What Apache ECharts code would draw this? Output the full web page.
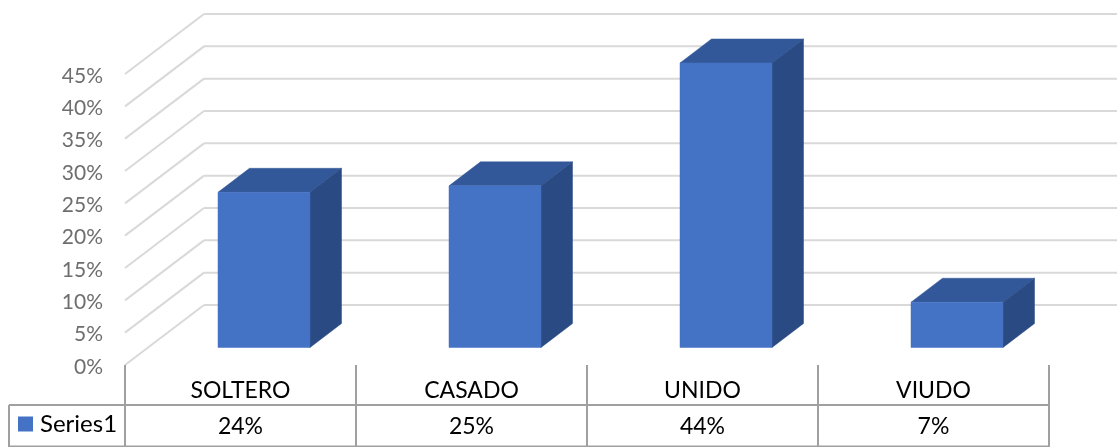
<!DOCTYPE html>
<html>
<head>
<meta charset="utf-8">
<style>html,body{margin:0;padding:0;background:#fff}#c{width:1117px;height:447px}</style>
<script src="https://cdn.jsdelivr.net/npm/echarts@6/dist/echarts.min.js"></script>
</head>
<body>
<div id="c"></div>
<script>
const categories = ['SOLTERO', 'CASADO', 'UNIDO', 'VIUDO'];
const seriesName = 'Series1';
const values = [24, 25, 44, 7];
const yTicks = [0, 5, 10, 15, 20, 25, 30, 35, 40, 45];

const FONT = 'Lato, "Open Sans", sans-serif';
const WALL = { x: 79, y: -60 };
const BAR_OFFSET = { x: 23.5, y: -17.5 };
const BAR_DEPTH = { x: 31.5, y: -24 };
const BAR_WIDTH = 92;
const GRID_COLOR = '#d9d9d9', TABLE_COLOR = '#a0a0a0';
const ROW1 = 40, ROW2 = 82, KEY_LEFT = 9;

const chart = echarts.init(document.getElementById('c'), null, { renderer: 'canvas' });

function poly(points, fill) {
  return { type: 'polygon', shape: { points }, style: { fill, stroke: fill, lineWidth: 0.5 } };
}
function line(x1, y1, x2, y2, stroke, lineWidth) {
  return { type: 'line', shape: { x1, y1, x2, y2 }, style: { stroke, lineWidth } };
}

chart.setOption({
  animation: false,
  backgroundColor: '#fff',
  grid: { left: 125, right: 68, top: 74, bottom: 82 },
  legend: {
    left: 18, top: 412, padding: 0, itemWidth: 15, itemHeight: 15, itemGap: 0,
    icon: 'rect', data: [seriesName], selectedMode: false,
    textStyle: { fontFamily: FONT, fontSize: 24, color: '#000', padding: [0, 0, 0, 2] }
  },
  xAxis: [
    {
      type: 'category', data: categories, position: 'bottom',
      axisLine: { show: false }, axisTick: { show: false }, splitLine: { show: false },
      axisLabel: { fontFamily: FONT, fontSize: 23, color: '#000', margin: 14 }
    },
    {
      type: 'category', data: values.map(v => v + '%'), position: 'bottom', offset: 36,
      axisLine: { show: false }, axisTick: { show: false }, splitLine: { show: false },
      axisLabel: { fontFamily: FONT, fontSize: 23, color: '#000', margin: 14 }
    }
  ],
  yAxis: {
    type: 'value', min: 0, max: 45, interval: 5,
    axisLine: { show: false }, axisTick: { show: false }, splitLine: { show: false },
    axisLabel: { fontFamily: FONT, fontSize: 21, color: '#6e6e6e', margin: 22, verticalAlign: 'top', lineHeight: 4, formatter: '{value}%' }
  },
  series: [
    {
      name: 'walls', type: 'custom', z: 1, silent: true,
      data: yTicks.map(t => [0, t]),
      encode: { x: 0, y: 1 },
      renderItem(params, api) {
        const p = api.coord([0, api.value(1)]);
        const band = api.size([1, 0])[0];
        const x0 = p[0] - band / 2, y0 = p[1];
        const bx = x0 + WALL.x, by = y0 + WALL.y;
        return { type: 'group', children: [
          line(x0, y0, bx, by, GRID_COLOR, 2),
          line(bx, by, x0 + band * categories.length + WALL.x, by, GRID_COLOR, 2)
        ]};
      }
    },
    {
      name: 'table', type: 'custom', z: 2, silent: true,
      data: categories.map((c, i) => [i, 0]),
      encode: { x: 0, y: 1 },
      renderItem(params, api) {
        const i = api.value(0);
        const p = api.coord([i, 0]);
        const band = api.size([1, 0])[0];
        const xl = p[0] - band / 2, xr = p[0] + band / 2, y = p[1];
        const kids = [
          line(xr, y, xr, y + ROW2, TABLE_COLOR, 2),
          line(xl, y + ROW1, xr, y + ROW1, TABLE_COLOR, 2),
          line(xl, y + ROW2 - 0.5, xr, y + ROW2 - 0.5, TABLE_COLOR, 2)
        ];
        if (i === 0) {
          kids.push(line(xl, y, xl, y + ROW2, TABLE_COLOR, 2));
          kids.push(line(KEY_LEFT, y + ROW1, xl, y + ROW1, TABLE_COLOR, 2));
          kids.push(line(KEY_LEFT, y + ROW2 - 0.5, xl, y + ROW2 - 0.5, TABLE_COLOR, 2));
          kids.push(line(KEY_LEFT, y + ROW1, KEY_LEFT, y + ROW2, TABLE_COLOR, 2));
        }
        return { type: 'group', children: kids };
      }
    },
    {
      name: seriesName, type: 'custom', z: 3, silent: true,
      itemStyle: { color: '#4472C4' },
      data: values.map((v, i) => [i, v]),
      encode: { x: 0, y: 1 },
      renderItem(params, api) {
        const top = api.coord([api.value(0), api.value(1)]);
        const base = api.coord([api.value(0), 0]);
        const l = top[0] + BAR_OFFSET.x - BAR_WIDTH / 2, r = l + BAR_WIDTH;
        const t = top[1] + BAR_OFFSET.y, b = base[1] + BAR_OFFSET.y;
        const dx = BAR_DEPTH.x, dy = BAR_DEPTH.y;
        return { type: 'group', children: [
          poly([[l, t], [r, t], [r + dx, t + dy], [l + dx, t + dy]], '#335899'),
          poly([[r, t], [r + dx, t + dy], [r + dx, b + dy], [r, b]], '#2A4A83'),
          poly([[l, t], [r, t], [r, b], [l, b]], '#4472C4')
        ]};
      }
    }
  ]
});
</script>
</body>
</html>
